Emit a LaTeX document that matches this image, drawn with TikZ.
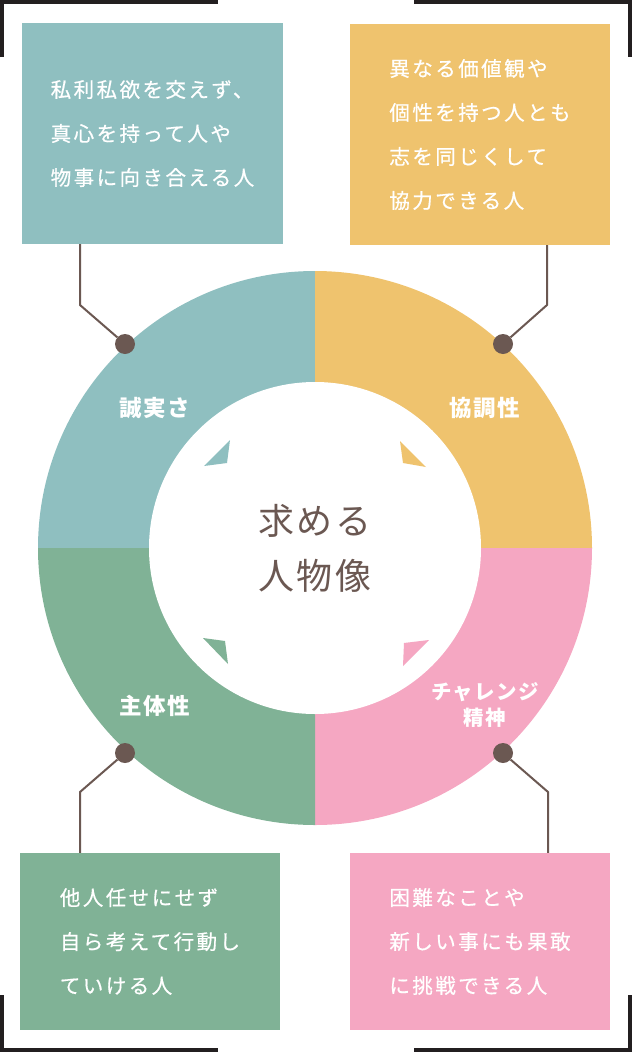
\documentclass[tikz,border=0pt]{standalone}
\usepackage{fontspec}
\newfontfamily\jpfont{Noto Sans CJK JP}[LetterSpace=12, FakeBold=0.6]
\newfontfamily\jplabel{Noto Sans CJK JP}[LetterSpace=6]
\usetikzlibrary{positioning}
\definecolor{seiteal}{RGB}{143,191,192}
\definecolor{kyoyellow}{RGB}{239,195,110}
\definecolor{chapink}{RGB}{245,167,194}
\definecolor{shugreen}{RGB}{128,178,150}
\definecolor{linebrown}{RGB}{107,88,82}
\definecolor{framegray}{RGB}{35,31,32}

\begin{document}
\begin{tikzpicture}[x=1pt, y=-1pt,
  traitbox/.style={rectangle, minimum width=260pt, inner sep=0pt, text=white, align=left,
    font=\jpfont\fontsize{20.5}{44}\selectfont},
  quadlabel/.style={text=white, align=center, inner sep=0pt, font=\jplabel\bfseries\fontsize{22.5}{26}\selectfont},
  dot/.style={circle, fill=linebrown, minimum size=20pt, inner sep=0pt},
  link/.style={draw=linebrown, line width=2pt},
  corner/.style={draw=framegray, line width=4pt}]
  \useasboundingbox (0,0) rectangle (632,1052);

  \coordinate (ctr) at (315,548);
  \fill[seiteal] (ctr) -- ++(180:277) arc[start angle=180, end angle=270, radius=277] -- cycle;
  \fill[kyoyellow] (ctr) -- ++(270:277) arc[start angle=270, end angle=360, radius=277] -- cycle;
  \fill[chapink] (ctr) -- ++(0:277) arc[start angle=0, end angle=90, radius=277] -- cycle;
  \fill[shugreen] (ctr) -- ++(90:277) arc[start angle=90, end angle=180, radius=277] -- cycle;

  \node[circle, fill=white, minimum size=332pt, inner sep=0pt, align=center, text=linebrown,
    font=\jplabel\fontsize{36}{55}\selectfont] (core) at (ctr) {求める\\人物像};

  \fill[seiteal] (230,440) -- (227,463) -- (204,466) -- cycle;
  \fill[kyoyellow] (400,441) -- (426,467) -- (403,463) -- cycle;
  \fill[shugreen] (203,638) -- (225,641) -- (228,664) -- cycle;
  \fill[chapink] (429,640) -- (404,643) -- (403,666) -- cycle;

  \node[quadlabel] (lblSei) at (155,408) {誠実さ};
  \node[quadlabel] (lblKyo) at (485,408) {協調性};
  \node[quadlabel] (lblShu) at (155,706) {主体性};
  \node[quadlabel, font=\jplabel\bfseries\fontsize{20.5}{26}\selectfont] (lblCha) at (485,705) {チャレンジ\\精神};

  \node[traitbox, fill=seiteal, minimum width=261pt, minimum height=221pt] (boxSei) at (152.5,133.5)
    {私利私欲を交えず、\\真心を持って人や\\物事に向き合える人};
  \node[traitbox, fill=kyoyellow, minimum height=221pt] (boxKyo) at (480,134.5)
    {異なる価値観や\\個性を持つ人とも\\志を同じくして\\協力できる人};
  \node[traitbox, fill=shugreen, minimum height=177pt] (boxShu) at (150,941.5)
    {他人任せにせず\\自ら考えて行動し\\ていける人};
  \node[traitbox, fill=chapink, minimum height=177pt] (boxCha) at (480,941.5)
    {困難なことや\\新しい事にも果敢\\に挑戦できる人};

  \node[dot] (dotSei) at (125,344) {};
  \node[dot] (dotKyo) at (503,344) {};
  \node[dot] (dotShu) at (125,753) {};
  \node[dot] (dotCha) at (503,753) {};

  \coordinate (bendSei) at (80,305);
  \coordinate (bendKyo) at (547,305);
  \coordinate (bendShu) at (80,792);
  \coordinate (bendCha) at (548,792);
  \draw[link] (bendSei |- boxSei.south) -- (bendSei) -- (dotSei);
  \draw[link] (bendKyo |- boxKyo.south) -- (bendKyo) -- (dotKyo);
  \draw[link] (bendShu |- boxShu.north) -- (bendShu) -- (dotShu);
  \draw[link] (bendCha |- boxCha.north) -- (bendCha) -- (dotCha);

  \draw[corner] (2,57) -- (2,2) -- (218,2);
  \draw[corner] (414,2) -- (630,2) -- (630,57);
  \draw[corner] (2,995) -- (2,1050) -- (218,1050);
  \draw[corner] (414,1050) -- (630,1050) -- (630,995);
\end{tikzpicture}
\end{document}
